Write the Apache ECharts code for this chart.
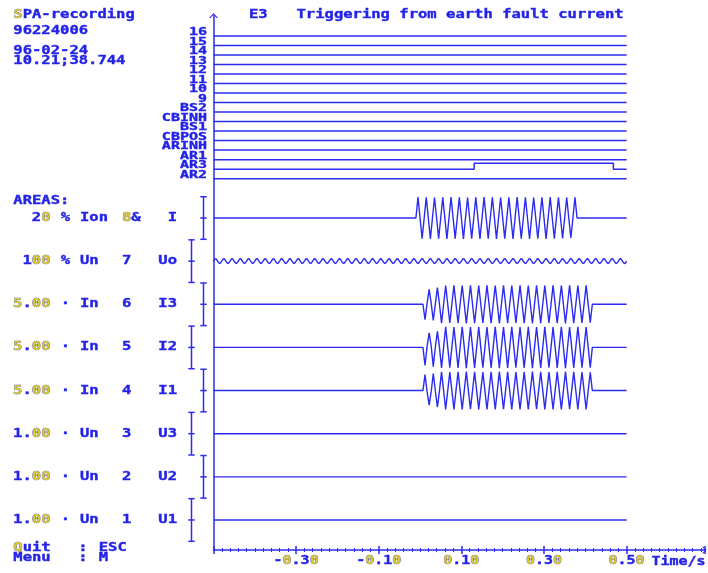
<!DOCTYPE html>
<html><head><meta charset="utf-8">
<script src="https://cdn.jsdelivr.net/npm/echarts@6/dist/echarts.min.js"></script>
<style>html,body{margin:0;padding:0;background:#fff}#c{width:708px;height:573px}</style>
</head><body><div id="c"></div>
<script>
// ---------------- DATA ----------------
const timeMin = -0.5, timeMax = 0.5;
const sampleStep = 0.005;

const digitalNames = ['16','15','14','13','12','11','10','9','BS2','CBINH','BS1','CBPOS','ARINH','AR1','AR3','AR2'];
const idleTimes = [-0.5, 0.5];
const idleStates = [0, 0];
const ar3Times = [-0.5, 0.131, 0.468, 0.5];
const ar3States = [0, 1, 0, 0];

const analogNames = ['I','Uo','I3','I2','I1','U3','U2','U1'];
const analogRanges = ['20','100','5.00','5.00','5.00','1.00','1.00','1.00'];
const analogRangeSigns = ['%','%','·','·','·','·','·','·'];
const analogUnits = ['Ion','Un','In','In','In','Un','Un','Un'];
const analogNumbers = ['8&','7','6','5','4','3','2','1'];

const iStart = -0.01;
const iValues = [0,
 .98,0,-.97,0, .97,0,-.98,0, .96,0,-.97,0, .97,0,-.98,0, .98,0,-.97,0,
 .97,0,-.98,0, .96,0,-.97,0, .97,0,-.98,0, .98,0,-.97,0, .97,0,-.98,0,
 .96,0,-.97,0, .97,0,-.98,0, .98,0,-.97,0, .97,0,-.98,0, .96,0,-.97,0,
 .97,0,-.98,0, .98,0,-.97,0, .97,0,-.96,0, .96,0,-.93,0,
 .97,0];

const uoStart = -0.5;
const uoValues = [
 0,.11,0,-.11,0,.11,0,-.11,0,.11,0,-.11,0,.11,0,-.11,0,.11,0,-.11,
 0,.11,0,-.11,0,.11,0,-.11,0,.11,0,-.11,0,.11,0,-.11,0,.11,0,-.11,
 0,.11,0,-.11,0,.11,0,-.11,0,.11,0,-.11,0,.11,0,-.11,0,.11,0,-.11,
 0,.11,0,-.11,0,.11,0,-.11,0,.11,0,-.11,0,.11,0,-.11,0,.11,0,-.11,
 0,.11,0,-.11,0,.11,0,-.11,0,.11,0,-.11,0,.11,0,-.11,0,.11,0,-.11,
 0,.11,0,-.11,0,.11,0,-.11,0,.11,0,-.11,0,.11,0,-.11,0,.11,0,-.11,
 0,.11,0,-.11,0,.11,0,-.11,0,.11,0,-.11,0,.11,0,-.11,0,.11,0,-.11,
 0,.11,0,-.11,0,.11,0,-.11,0,.11,0,-.11,0,.11,0,-.11,0,.11,0,-.11,
 0,.11,0,-.11,0,.11,0,-.11,0,.11,0,-.11,0,.11,0,-.11,0,.11,0,-.11,
 0,.11,0,-.11,0,.11,0,-.11,0,.11,0,-.11,0,.11,0,-.11,0,.11,0,-.11,
 0];

const i3Start = 0.007;
const i3Values = [0,
 -.72,.04,.70,.04, -.76,.02,.78,0,
 -.89,0,.88,0, -.88,0,.89,0, -.89,0,.88,0, -.90,0,.89,0, -.89,0,.88,0, -.88,0,.89,0,
 -.89,0,.88,0, -.90,0,.89,0, -.89,0,.88,0, -.88,0,.89,0, -.89,0,.88,0, -.90,0,.89,0,
 -.89,0,.88,0, -.88,0,.89,0, -.89,0,.88,0, -.90,0,.89,0, -.89,0,.88,0, -.88,0,.89,0,
 -.86,0];

const i2Start = 0.007;
const i2Values = [0,
 -.85,.05,.68,.05, -.90,.02,.75,0,
 -.96,0,.97,0, -.95,0,.96,0, -.96,0,.97,0, -.97,0,.96,0, -.96,0,.97,0, -.95,0,.96,0,
 -.96,0,.97,0, -.97,0,.96,0, -.96,0,.97,0, -.95,0,.96,0, -.96,0,.97,0, -.97,0,.96,0,
 -.96,0,.97,0, -.95,0,.96,0, -.96,0,.97,0, -.97,0,.96,0, -.96,0,.97,0, -.95,0,.96,0,
 -.95,0];

const i1Start = 0.007;
const i1Values = [0,
 .75,-.05,-.68,-.05, .80,-.02,-.78,0,
 .88,0,-.88,0, .87,0,-.89,0, .88,0,-.88,0, .89,0,-.87,0, .88,0,-.88,0, .87,0,-.89,0,
 .88,0,-.88,0, .89,0,-.87,0, .88,0,-.88,0, .87,0,-.89,0, .88,0,-.88,0, .89,0,-.87,0,
 .88,0,-.88,0, .87,0,-.89,0, .88,0,-.88,0, .89,0,-.87,0, .88,0,-.88,0, .87,0,-.89,0,
 .86,0];

const u3Values = [];
const u2Values = [];
const u1Values = [];

const timeTickValues = [-0.3, -0.1, 0.1, 0.3, 0.5];
const timeTickLabels = ['-0.30', '-0.10', '0.10', '0.30', '0.50'];

// ---------------- LAYOUT / STYLE ----------------
const BLUE = '#2323e8', LINE = '#2b2bf2', YEL = '#d6c82a';
const FONT = 'DejaVu Sans Mono';
const digitalTop = 514, digitalPitch = 9.51, digitalHigh = 6;
const analogTop = 332, analogPitch = 43.14, analogAmp = 21.3;
const yArrow = 'path://M0,5 L4.5,0 L9,5 L7.6,5 L4.5,1.6 L1.4,5 Z';
const xArrow = 'path://M0,4 L4,0 L8,4 L6.6,4 L4,1.4 L1.4,4 Z';

const series = [];
digitalNames.forEach((name, i) => {
  const base = digitalTop - i * digitalPitch;
  const times = name === 'AR3' ? ar3Times : idleTimes;
  const states = name === 'AR3' ? ar3States : idleStates;
  series.push({
    type: 'line', name: name, step: 'end', symbol: 'none', silent: true,
    lineStyle: { color: LINE, width: 1.5 },
    data: times.map((t, k) => [t, base + states[k] * digitalHigh])
  });
});

const analogSamples = [
  { start: iStart, values: iValues },
  { start: uoStart, values: uoValues, smooth: true },
  { start: i3Start, values: i3Values },
  { start: i2Start, values: i2Values },
  { start: i1Start, values: i1Values },
  { start: 0, values: u3Values },
  { start: 0, values: u2Values },
  { start: 0, values: u1Values }
];
analogSamples.forEach((ch, j) => {
  const base = analogTop - j * analogPitch;
  const pts = [];
  if (!ch.values.length || ch.start > timeMin) pts.push([timeMin, base]);
  ch.values.forEach((v, k) => pts.push([ch.start + k * sampleStep, base + v * analogAmp]));
  const lastT = ch.values.length ? ch.start + (ch.values.length - 1) * sampleStep : timeMin;
  if (lastT < timeMax - 1e-9) pts.push([timeMax, base]);
  series.push({
    type: 'line', name: analogNames[j], symbol: 'none', silent: true,
    smooth: ch.smooth ? 0.5 : false,
    lineStyle: { color: LINE, width: 1.4 },
    data: pts
  });
});

const chart = echarts.init(document.getElementById('c'), null, { renderer: 'canvas' });
const baseXAxis = {
  type: 'value', min: -0.5, max: 0.689, interval: 0.2, position: 'bottom',
  axisLabel: { show: false }, splitLine: { show: false }, minorSplitLine: { show: false }
};
chart.setOption({
  animation: false,
  backgroundColor: '#ffffff',
  grid: { left: 213.5, right: 3.3, top: 15.5, bottom: 23, containLabel: false },
  xAxis: [
    Object.assign({}, baseXAxis, {
      axisLine: { show: true, onZero: false, lineStyle: { color: LINE, width: 1.5 }, symbol: ['none', xArrow], symbolSize: [8, 4] },
      axisTick: { show: true, length: 4, lineStyle: { color: LINE, width: 1.5 } },
      minorTick: { show: true, splitNumber: 10, length: 2, lineStyle: { color: LINE, width: 1 } }
    }),
    Object.assign({}, baseXAxis, {
      axisLine: { show: false, onZero: false },
      axisTick: { show: true, inside: true, length: 4, lineStyle: { color: LINE, width: 1.5 } },
      minorTick: { show: true, splitNumber: 10, length: 2, lineStyle: { color: LINE, width: 1 } }
    })
  ],
  yAxis: {
    type: 'value', min: 0, max: 534.5, position: 'left',
    axisLine: { show: true, onZero: false, lineStyle: { color: LINE, width: 1.5 }, symbol: ['none', yArrow], symbolSize: [9, 5] },
    axisTick: { show: false }, axisLabel: { show: false }, splitLine: { show: false }
  },
  series: series
});

// ---------------- TEXT & SCALE BARS ----------------
function T(text, x, y, align, fs, sx) {
  fs = fs || 11.5; sx = sx || 1.35;
  return {
    type: 'text', x: x, y: y, scaleX: sx, silent: true, z: 100,
    style: {
      text: text, fill: BLUE, stroke: BLUE, lineWidth: 0.35,
      fontSize: fs, fontFamily: FONT, fontWeight: 'bold',
      align: align, textAlign: align, verticalAlign: 'middle', textVerticalAlign: 'middle',
      rich: { z: { fill: YEL, stroke: '#4b45c8', lineWidth: 0.5, fontSize: fs, fontFamily: FONT, fontWeight: 'bold' } }
    }
  };
}
const yl = (s, re) => s.replace(re || /0/g, c => '{z|' + c + '}');
const px = v => chart.convertToPixel({ xAxisIndex: 0 }, v);
const py = v => chart.convertToPixel({ yAxisIndex: 0 }, v);

const els = [];
els.push(T('{z|S}PA-recording', 13.3, 14.6, 'left'));
els.push(T('96224006', 13.3, 31, 'left'));
els.push(T('96-02-24', 13.3, 50.8, 'left'));
els.push(T('10.21;38.744', 13.3, 60.8, 'left'));
els.push(T('E3', 249, 14.8, 'left'));
els.push(T('Triggering from earth fault current', 296.5, 14.8, 'left'));
els.push(T('AREAS:', 13.3, 200.8, 'left'));

digitalNames.forEach((name, i) => {
  const y = py(digitalTop - i * digitalPitch);
  els.push(T(name, 207, y - 3.6, 'right', 10, 1.5));
});

const gridLeft = px(timeMin);
analogNames.forEach((name, j) => {
  const base = analogTop - j * analogPitch;
  const y = py(base);
  els.push(T(yl(analogRanges[j], /[05]/g), 50.5, y, 'right'));
  els.push(T(analogRangeSigns[j], 65.5, y, 'center'));
  els.push(T(analogUnits[j], 80, y, 'left'));
  els.push(T(yl(analogNumbers[j], /8/g), 122, y, 'left'));
  els.push(T(name, 177, y, 'right'));
  // scale bar
  const bx = Math.round(gridLeft - (j % 2 === 0 ? 10.5 : 22.5)) + 0.5;
  const yt = py(base + analogAmp), yb = py(base - analogAmp);
  const st = { stroke: LINE, lineWidth: 1.5 };
  els.push({ type: 'line', silent: true, shape: { x1: bx, y1: yt, x2: bx, y2: yb }, style: st });
  [yt, y, yb].forEach(yy => els.push({ type: 'line', silent: true, shape: { x1: bx - 3.2, y1: yy, x2: bx + 3.2, y2: yy }, style: st }));
});

timeTickValues.forEach((v, k) => {
  els.push(T(yl(timeTickLabels[k]), px(v), 561.5, 'center', 11.5, 1.3));
});
els.push(T('Time/s', 651.5, 562, 'left', 11.5, 1.3));

els.push(T('{z|Q}uit', 13.3, 547.6, 'left'));
els.push(T(':', 83, 547.6, 'center'));
els.push(T('ESC', 98.7, 547.6, 'left'));
els.push(T('Menu', 13.3, 557.8, 'left'));
els.push(T(':', 83, 557.8, 'center'));
els.push(T('M', 98.7, 557.8, 'left'));

chart.setOption({ graphic: { elements: els } });
</script></body></html>
